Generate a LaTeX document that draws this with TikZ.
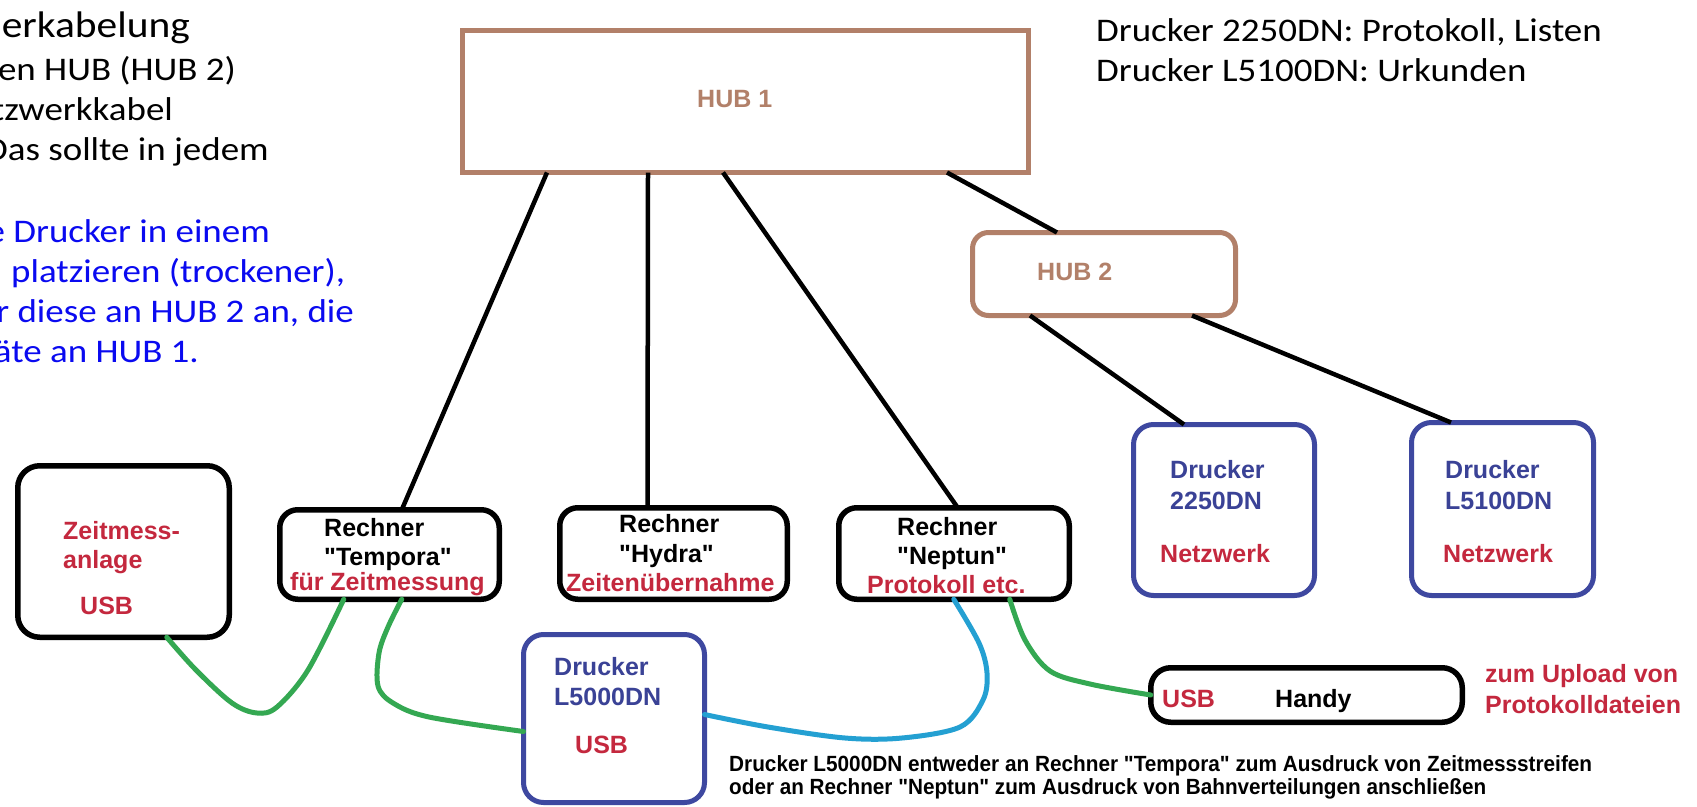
\documentclass[tikz,border=0pt]{standalone}
\usepackage{fontspec}
\usepackage{graphicx}
\setmainfont{Liberation Sans}
\newfontfamily\calfont[FakeStretch=1.12]{Carlito}
\newfontfamily\arialfont{Liberation Sans}
\usetikzlibrary{calc}

\definecolor{hubbrown}{RGB}{178,128,105}
\definecolor{printblue}{RGB}{62,72,160}
\definecolor{printtext}{RGB}{58,66,150}
\definecolor{labelred}{RGB}{196,40,62}
\definecolor{usbgreen}{RGB}{52,168,82}
\definecolor{usbcyan}{RGB}{36,160,210}
\definecolor{noteblue}{RGB}{10,10,240}

\begin{document}
\begin{tikzpicture}[x=1pt,y=-1pt,
  hubbox/.style={draw=hubbrown, line width=5pt, inner sep=0pt, outer sep=0pt},
  pcbox/.style={draw=black, line width=5.5pt, rounded corners=18pt, inner sep=0pt, outer sep=0pt},
  prbox/.style={draw=printblue, line width=5pt, rounded corners=20pt, inner sep=0pt, outer sep=0pt},
  wire/.style={draw=black, line width=4.5pt},
  cable/.style={line width=5pt, line cap=round},
  lbl/.style={font=\arialfont\bfseries\fontsize{25}{30}\selectfont, inner sep=0pt, anchor=base west},
  redlbl/.style={lbl, text=labelred},
  bluelbl/.style={lbl, text=printtext},
  hublbl/.style={lbl, text=hubbrown},
  note/.style={font=\calfont\fontsize{33}{40}\selectfont, inner sep=0pt},
  bignote/.style={font=\calfont\fontsize{37}{44}\selectfont, inner sep=0pt},
  footnote/.style={font=\arialfont\bfseries\fontsize{22}{25}\selectfont, inner sep=0pt, anchor=base west}
]
\useasboundingbox (0,0) rectangle (1697,806);
\clip (0,0) rectangle (1697,806);
\fill[white] (0,0) rectangle (1697,806);

% ---------- hubs ----------
\node[hubbox, minimum width=566pt, minimum height=142pt] (hub1) at (745.5,101.5) {};
\node[hubbox, rounded corners=16pt, minimum width=263pt, minimum height=83pt] (hub2) at (1104,274) {};
\node[hublbl] (hub1t) at (697,107) {HUB 1};
\node[hublbl] (hub2t) at (1037,280) {HUB 2};

% ---------- computers and devices ----------
\node[pcbox, rounded corners=22pt, minimum width=211.5pt, minimum height=171.5pt] (zeit) at (123.5,551.5) {};
\node[pcbox, minimum width=219.5pt, minimum height=89.5pt] (tempora) at (389.5,554.5) {};
\node[pcbox, minimum width=227.5pt, minimum height=91.5pt] (hydra) at (673.5,553.5) {};
\node[pcbox, minimum width=230.5pt, minimum height=91.5pt] (neptun) at (954,553.5) {};
\node[pcbox, rounded corners=20pt, minimum width=311.5pt, minimum height=54.5pt] (handy) at (1306.5,695) {};

\node[prbox, minimum width=181pt, minimum height=168pt] (l5000) at (614,718.5) {};
\node[prbox, minimum width=181pt, minimum height=171pt] (p2250) at (1224,510) {};
\node[prbox, minimum width=182pt, minimum height=173pt] (p5100) at (1502.5,509) {};

% ---------- network cables ----------
\draw[wire] ([xshift=84.5pt]hub1.south west) -- ([xshift=122pt]tempora.north west);
\draw[wire] ([xshift=185.5pt]hub1.south west) -- ([xshift=87.75pt]hydra.north west);
\draw[wire] ([xshift=260.5pt]hub1.south west) -- ([xshift=119pt]neptun.north west);
\draw[wire] ([xshift=484.5pt]hub1.south west) -- ([xshift=84.5pt]hub2.north west);
\draw[wire] ([xshift=57.5pt]hub2.south west) -- ([xshift=50.5pt]p2250.north west);
\draw[wire] ([xshift=219.5pt]hub2.south west) -- ([xshift=39.5pt]p5100.north west);

% ---------- USB cables ----------
\draw[cable, usbgreen] plot[smooth, tension=0.55] coordinates {
  ([xshift=149pt]zeit.south west) (196,670) (232,703) (257,713) (277,707) (308,670)
  ([xshift=64pt]tempora.south west)};
\draw[cable, usbgreen] plot[smooth, tension=0.55] coordinates {
  ([xshift=122pt]tempora.south west) (388,627) (379,653) (378,686) (393,703) (429,717)
  ([yshift=-97pt]l5000.north west)};
\draw[cable, usbcyan] plot[smooth, tension=0.55] coordinates {
  ([yshift=-80pt]l5000.north east) (768,727) (845,738) (902,738) (960,727) (983,700)
  (987,673) (979,643) ([xshift=115pt]neptun.south west)};
\draw[cable, usbgreen] plot[smooth, tension=0.55] coordinates {
  ([xshift=171pt]neptun.south west) (1025,640) (1050,671) (1090,684) (handy.west)};

% ---------- box labels ----------
\node[redlbl] (zeit1) at (63,539) {Zeitmess-};
\node[redlbl] (zeit2) at (63,568) {anlage};
\node[redlbl] (zeit3) at (80,614) {USB};

\node[lbl] (tem1) at (324,536) {Rechner};
\node[lbl] (tem2) at (324,565) {"Tempora"};
\node[redlbl] (tem3) at (290,590) {für Zeitmessung};

\node[lbl] (hyd1) at (619,532) {Rechner};
\node[lbl] (hyd2) at (619,562) {"Hydra"};
\node[redlbl] (hyd3) at (566,591) {Zeitenübernahme};

\node[lbl] (nep1) at (897,535) {Rechner};
\node[lbl] (nep2) at (897,564) {"Neptun"};
\node[redlbl] (nep3) at (867,593) {Protokoll etc.};

\node[bluelbl] (l50a) at (554,675) {Drucker};
\node[bluelbl] (l50b) at (554,705) {L5000DN};
\node[redlbl] (l50c) at (575,753) {USB};

\node[bluelbl] (p22a) at (1170,478) {Drucker};
\node[bluelbl] (p22b) at (1170,509) {2250DN};
\node[redlbl] (p22c) at (1160,562) {Netzwerk};

\node[bluelbl] (p51a) at (1445,478) {Drucker};
\node[bluelbl] (p51b) at (1445,509) {L5100DN};
\node[redlbl] (p51c) at (1443,562) {Netzwerk};

\node[redlbl] (hand1) at (1162,707) {USB};
\node[lbl] (hand2) at (1275,707) {Handy};
\node[redlbl] (up1) at (1485,682) {zum Upload von};
\node[redlbl] (up2) at (1485,713) {Protokolldateien};

% ---------- notes ----------
\node[bignote, anchor=base east] (n1) at (190,37) {erkabelung};
\node[note, anchor=base east] (n2) at (236,80) {en HUB (HUB 2)};
\node[note, anchor=base east] (n3) at (173,120) {tzwerkkabel};
\node[note, anchor=base east] (n4) at (269,160) {Das sollte in jedem};
\node[note, anchor=base east, text=noteblue] (b1) at (270,242) {e Drucker in einem};
\node[note, anchor=base west, text=noteblue] (b2) at (11,282) {platzieren (trockener),};
\node[note, anchor=base east, text=noteblue] (b3) at (354,322) {r diese an HUB 2 an, die};
\node[note, anchor=base east, text=noteblue] (b4) at (199,362) {äte an HUB 1.};

\node[note, anchor=base west] (r1) at (1096,41) {Drucker 2250DN: Protokoll, Listen};
\node[note, anchor=base west] (r2) at (1096,81) {Drucker L5100DN: Urkunden};

\node[footnote] (f1) at (729,771) {\resizebox{863pt}{\height}{Drucker L5000DN entweder an Rechner "Tempora" zum Ausdruck von Zeitmessstreifen}};
\node[footnote] (f2) at (729,794) {\resizebox{757pt}{\height}{oder an Rechner "Neptun" zum Ausdruck von Bahnverteilungen anschließen}};
\end{tikzpicture}
\end{document}
